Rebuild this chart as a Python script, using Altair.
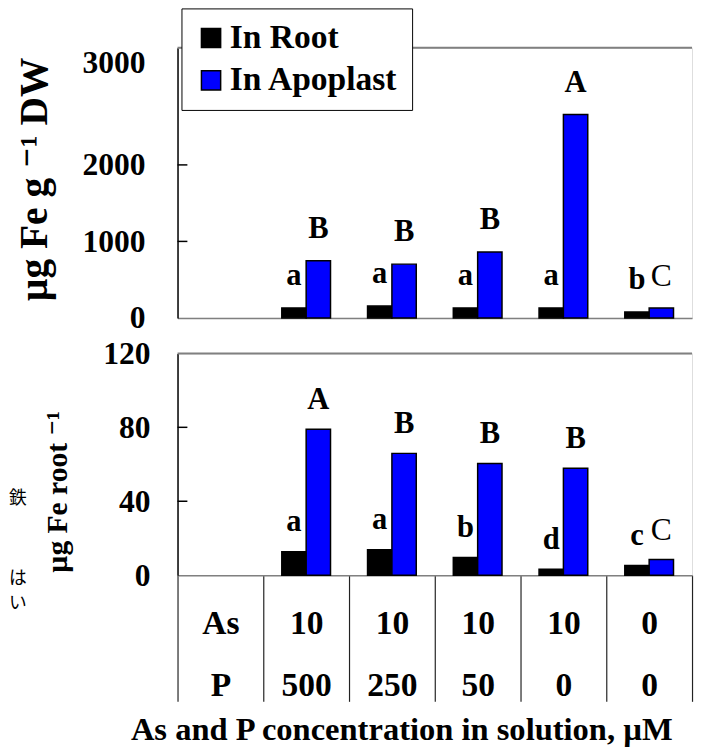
import altair as alt
import pandas as pd

# ---------------- data ----------------
as_conc = ["As", "10", "10", "10", "10", "0"]
p_conc = ["P", "500", "250", "50", "0", "0"]
series = ["In Root", "In Apoplast"]

root_dw = [130, 155, 130, 130, 77]
apo_dw = [748, 703, 862, 2658, 129]
root_letters_dw = ["a", "a", "a", "a", "b"]
apo_letters_dw = ["B", "B", "B", "A", "C"]

root_pr = [12.7, 13.8, 9.5, 3.2, 5.3]
apo_pr = [78.9, 65.9, 60.4, 57.8, 8.5]
root_letters_pr = ["a", "a", "b", "d", "c"]
apo_letters_pr = ["A", "B", "B", "B", "C"]

dw_ticks = [0, 1000, 2000, 3000]
dw_inner_ticks = [1000, 2000]
DW_MAX = 3530
pr_ticks = [0, 40, 80, 120]
pr_inner_ticks = [40, 80]
PR_MAX = 120

side_text = ["鉄", "は", "い"]

# ---------------- layout ----------------
W = 522
H_TOP = 274
H_BOT = 225
SERIF = "'Liberation Serif', Tinos, 'Times New Roman', Times, 'Nimbus Roman', 'DejaVu Serif', serif"
GREY = "#808080"
side_y = [148, 229, 254]
REGULAR_LETTERS = ["C"]

cats = [f"{a}|{p}" for a, p in zip(as_conc, p_conc)]
groups = cats[1:]


def make_df(root_vals, apo_vals, root_lab, apo_lab):
    rows = []
    for g, rv, av, rl, al in zip(groups, root_vals, apo_vals, root_lab, apo_lab):
        rows.append({"cat": g, "series": "In Root", "value": rv, "letter": rl})
        rows.append({"cat": g, "series": "In Apoplast", "value": av, "letter": al})
    return pd.DataFrame(rows)


df_dw = make_df(root_dw, apo_dw, root_letters_dw, apo_letters_dw)
df_pr = make_df(root_pr, apo_pr, root_letters_pr, apo_letters_pr)

x_scale = alt.Scale(domain=cats, paddingInner=0, paddingOuter=0)
xoff = alt.XOffset("series:N", scale=alt.Scale(domain=series, paddingInner=0, paddingOuter=0.76))
color_scale = alt.Scale(domain=series, range=["#000000", "#0000FF"])
reg_test = alt.FieldOneOfPredicate(field="letter", oneOf=REGULAR_LETTERS)


def letter_layers(df, dy):
    bold = alt.Chart(df).transform_filter(~reg_test).mark_text(
        baseline="middle", dy=dy, font=SERIF, fontSize=31, fontWeight="bold", color="black").encode(
        x=alt.X("cat:N", scale=x_scale), xOffset=xoff, y=alt.Y("value:Q"), text="letter:N")
    regular = alt.Chart(df).transform_filter(reg_test).mark_text(
        baseline="middle", dy=dy, font=SERIF, fontSize=32, fontWeight="normal", color="black").encode(
        x=alt.X("cat:N", scale=x_scale), xOffset=xoff, y=alt.Y("value:Q"), text="letter:N")
    return [bold, regular]


# ---------------- top panel ----------------
x_top = alt.X("cat:N", scale=x_scale,
              axis=alt.Axis(labels=False, ticks=False, title=None, domainColor=GREY, domainWidth=1.5))
y_top = alt.Y("value:Q", scale=alt.Scale(domain=[0, DW_MAX], nice=False),
              axis=alt.Axis(values=dw_ticks, format="d", ticks=False, grid=False, domainColor="black",
                            domainWidth=1.5, labelPadding=33, labelFontSize=32, labelFontWeight="bold",
                            labelFont=SERIF, labelColor="black",
                            labelOffset={"condition": {"test": "datum.value == 3000", "value": -26}, "value": 0},
                            title="µg Fe g ⁻¹ DW", titleFont=SERIF, titleFontSize=40, titleFontWeight="bold",
                            titleColor="black", titleX=-145, titleY=133, titleAngle=270,
                            titleAlign="center", titleBaseline="middle"))

legend = alt.Legend(orient="none", legendX=4, legendY=-40, title=None, fillColor="white",
                    strokeColor="black", padding=13, labelFont=SERIF, labelFontSize=34,
                    labelFontWeight="bold", labelColor="black", symbolType="square", symbolSize=380,
                    symbolStrokeColor="black", symbolStrokeWidth=1.5, rowPadding=9, labelOffset=2,
                    symbolOpacity=1, labelLimit=400)

bars_top = alt.Chart(df_dw).mark_bar(stroke="black", strokeWidth=1.5).encode(
    x=x_top, xOffset=xoff, y=y_top,
    color=alt.Color("series:N", scale=color_scale, legend=legend),
)
ticks_top = alt.Chart(pd.DataFrame({"value": dw_inner_ticks})).mark_rule(color="black", strokeWidth=1.5).encode(
    y="value:Q", x=alt.value(0), x2=alt.value(10))
border_top = alt.Chart(pd.DataFrame({"value": [DW_MAX]})).mark_rule(color=GREY, strokeWidth=2).encode(
    y="value:Q")

top = alt.layer(border_top, bars_top, *letter_layers(df_dw, -32), ticks_top).properties(width=W, height=H_TOP)

# ---------------- bottom panel ----------------
x_bot = alt.X("cat:N", scale=x_scale,
              axis=alt.Axis(labelExpr="split(datum.label, '|')", labelLineHeight=63, labelFontSize=34,
                            labelFont=SERIF, labelFontWeight="bold", labelColor="black", labelBaseline="top",
                            labelAngle=0, labelPadding=-96, tickBand="extent", tickSize=128,
                            tickColor="#222222", tickWidth=1.2, domainColor=GREY, domainWidth=1.5,
                            title="As and P concentration in solution, µM", titleFont=SERIF,
                            titleFontSize=33, titleFontWeight="bold", titleColor="black",
                            titleX=227, titleY=157, titleAlign="center", titleBaseline="middle"))
y_bot = alt.Y("value:Q", scale=alt.Scale(domain=[0, PR_MAX], nice=False),
              axis=alt.Axis(values=pr_ticks, ticks=False, grid=False, domainColor="black", domainWidth=1.5,
                            labelPadding=28, labelFontSize=32, labelFontWeight="bold", labelFont=SERIF,
                            labelColor="black",
                            title="µg Fe root ⁻¹", titleFont=SERIF, titleFontSize=30, titleFontWeight="bold",
                            titleColor="black", titleX=-122, titleY=140, titleAngle=270,
                            titleAlign="center", titleBaseline="middle"))

bars_bot = alt.Chart(df_pr).mark_bar(stroke="black", strokeWidth=1.5).encode(
    x=x_bot, xOffset=xoff, y=y_bot,
    color=alt.Color("series:N", scale=color_scale, legend=None),
)
ticks_bot = alt.Chart(pd.DataFrame({"value": pr_inner_ticks})).mark_rule(color="black", strokeWidth=1.5).encode(
    y="value:Q", x=alt.value(0), x2=alt.value(10))
border_bot = alt.Chart(pd.DataFrame({"value": [PR_MAX]})).mark_rule(color=GREY, strokeWidth=2).encode(
    y="value:Q")

side_layers = []
for ch, yy in zip(side_text, side_y):
    side_layers.append(
        alt.Chart(pd.DataFrame({"t": [ch]})).mark_text(align="left", baseline="middle", fontSize=18,
                                                       font="Noto Sans CJK JP", color="black").encode(
            x=alt.value(-171), y=alt.value(yy), text="t:N"))

bottom = alt.layer(border_bot, bars_bot, *letter_layers(df_pr, -30), ticks_bot, *side_layers).properties(
    width=W, height=H_BOT)

chart = alt.vconcat(top, bottom, spacing=36, bounds="flush").resolve_legend(color="independent").properties(
    padding={"left": 0, "top": -6, "right": 0, "bottom": 0}
).configure_view(stroke=None).configure(font=SERIF)

chart.save("out.html", embed_options={"renderer": "svg", "actions": False})
